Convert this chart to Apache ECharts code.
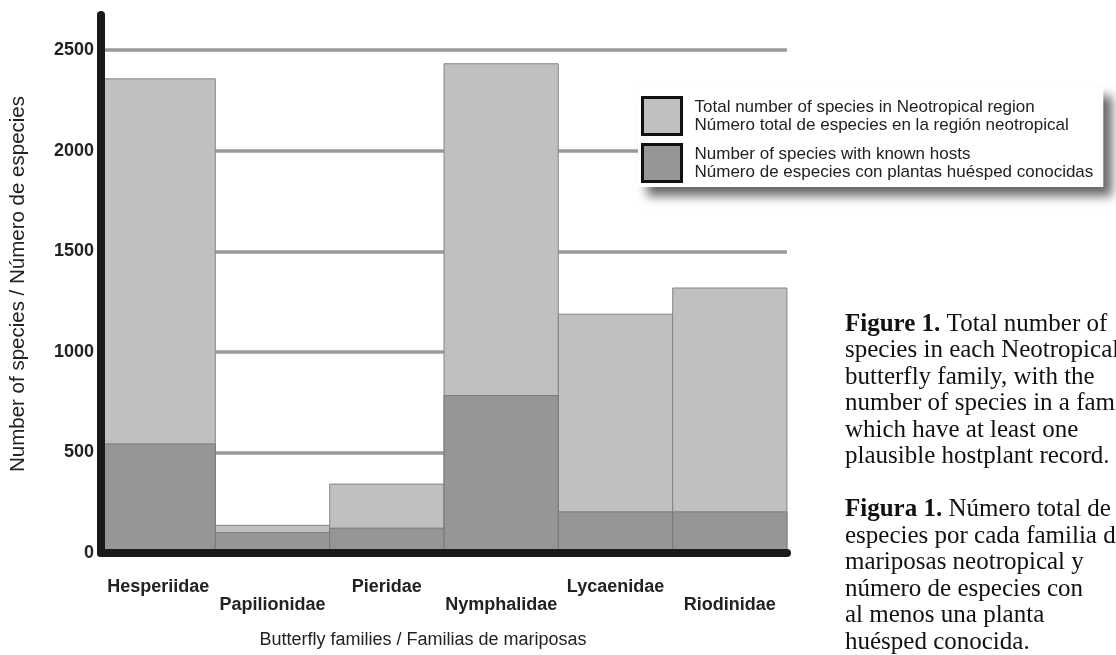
<!DOCTYPE html>
<html>
<head>
<meta charset="utf-8">
<script src="https://cdn.jsdelivr.net/npm/echarts@6/dist/echarts.min.js"></script>
<style>
html,body{margin:0;padding:0;background:#ffffff;}
#chart{width:1116px;height:655px;}
</style>
</head>
<body>
<div id="chart"></div>
<script>
const categories = ['Hesperiidae', 'Papilionidae', 'Pieridae', 'Nymphalidae', 'Lycaenidae', 'Riodinidae'];
const totalSpecies = [2360, 140, 345, 2435, 1190, 1320];
const knownHosts = [545, 104, 126, 785, 207, 207];
const yTicks = [0, 500, 1000, 1500, 2000, 2500];
const seriesNames = [
  'Total number of species in Neotropical region\nNúmero total de especies en la región neotropical',
  'Number of species with known hosts\nNúmero de especies con plantas huésped conocidas'
];
const captionLines = [
  '{b|Figure 1.} Total number of',
  'species in each Neotropical',
  'butterfly family, with the',
  'number of species in a family',
  'which have at least one',
  'plausible hostplant record.',
  '',
  '{b|Figura 1.} Número total de',
  'especies por cada familia de',
  'mariposas neotropical y',
  'número de especies con',
  'al menos una planta',
  'huésped conocida.'
];

const chart = echarts.init(document.getElementById('chart'), null, {renderer: 'canvas'});
const sans = 'Liberation Sans, Arial, sans-serif';
const serif = 'Liberation Serif, Times New Roman, serif';

chart.setOption({
  animation: false,
  backgroundColor: '#ffffff',
  title: {
    text: captionLines.join('\n'),
    left: 840,
    top: 306,
    textStyle: {
      fontFamily: serif, fontSize: 25, fontWeight: 'normal', color: '#111',
      lineHeight: 26.5,
      rich: {
        b: {fontFamily: serif, fontSize: 25, fontWeight: 'bold', color: '#111', lineHeight: 26.5}
      }
    }
  },
  legend: {
    orient: 'vertical',
    left: 638,
    top: 87,
    padding: [9, 10, 4, 3],
    itemGap: 7,
    itemWidth: 39,
    itemHeight: 37,
    icon: 'rect',
    backgroundColor: '#ffffff',
    shadowColor: 'rgba(0,0,0,0.6)',
    shadowBlur: 10,
    shadowOffsetX: 9,
    shadowOffsetY: 9,
    z: 20,
    itemStyle: {borderColor: '#111', borderWidth: 3},
    textStyle: {fontFamily: sans, fontSize: 17, color: '#222', lineHeight: 18, padding: [0, 0, 0, 8]},
    data: seriesNames
  },
  grid: [
    {left: 101, right: 329, top: 15, bottom: 102, containLabel: false},
    {left: 101, right: 329, top: 50, bottom: 102, containLabel: false}
  ],
  xAxis: [
    {
      type: 'category',
      gridIndex: 0,
      data: categories,
      z: 10,
      axisLine: {show: true, lineStyle: {color: '#1a1a1a', width: 8}},
      axisTick: {show: false},
      splitLine: {show: false},
      axisLabel: {
        margin: 25,
        fontFamily: sans, fontSize: 18, fontWeight: 'bold', color: '#222',
        lineHeight: 18,
        interval: 0,
        formatter: (v, i) => (i % 2 === 1 ? '\n' + v : v)
      },
      name: 'Butterfly families / Familias de mariposas',
      nameLocation: 'middle',
      nameGap: 78,
      nameTextStyle: {fontFamily: sans, fontSize: 18, color: '#222', padding: [0, 42, 0, 0]}
    },
    {type: 'value', gridIndex: 1, show: false, min: 0, max: 1}
  ],
  yAxis: [
    {
      type: 'value',
      gridIndex: 0,
      position: 'left',
      min: 0,
      max: 2675,
      interval: 500,
      axisLine: {show: false},
      axisTick: {show: false},
      axisLabel: {
        margin: 7,
        showMaxLabel: false,
        fontFamily: sans, fontSize: 18, fontWeight: 'bold', color: '#222',
        formatter: v => (yTicks.indexOf(v) >= 0 ? String(v) : '')
      },
      splitLine: {show: true, showMaxLine: false, showMinLine: false, lineStyle: {color: '#9a9a9a', width: 3.5}},
      name: 'Number of species / Número de especies',
      nameLocation: 'middle',
      nameGap: 72,
      nameTextStyle: {fontFamily: sans, fontSize: 20.5, color: '#222'}
    },
    {
      type: 'value',
      gridIndex: 1,
      position: 'right',
      min: 0,
      max: 2500,
      z: 5,
      axisLine: {show: true, lineStyle: {color: '#9a9a9a', width: 4}},
      axisTick: {show: false},
      axisLabel: {show: false},
      splitLine: {show: false}
    },
    {
      type: 'value',
      gridIndex: 0,
      position: 'left',
      offset: 0,
      min: 0,
      max: 2675,
      z: 10,
      axisLine: {show: true, onZero: false, lineStyle: {color: '#1a1a1a', width: 8}},
      axisTick: {show: false},
      axisLabel: {show: false},
      splitLine: {show: false}
    }
  ],
  series: [
    {
      name: seriesNames[0],
      type: 'bar',
      xAxisIndex: 0, yAxisIndex: 0,
      data: totalSpecies,
      barWidth: '100.8%',
      barGap: '-100%',
      itemStyle: {color: '#c0c0c0', borderColor: '#858585', borderWidth: 1}
    },
    {
      name: seriesNames[1],
      type: 'bar',
      xAxisIndex: 0, yAxisIndex: 0,
      data: knownHosts,
      barWidth: '100.8%',
      barGap: '-100%',
      itemStyle: {color: '#969696', borderColor: '#7a7a7a', borderWidth: 1}
    }
  ]
});
</script>
</body>
</html>
